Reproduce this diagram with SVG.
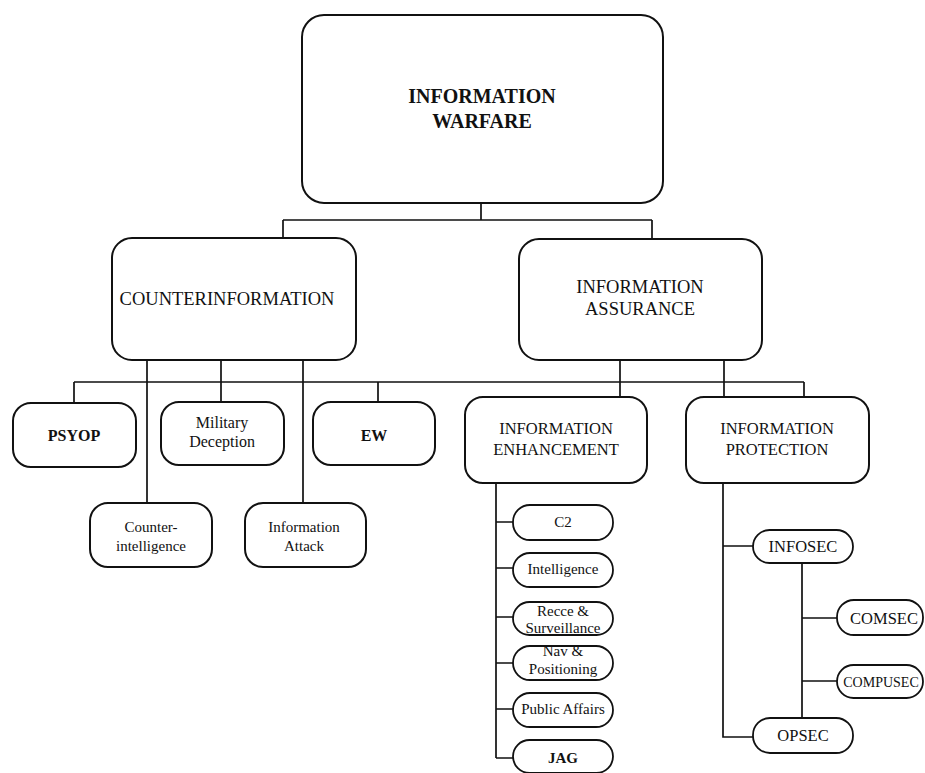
<svg xmlns="http://www.w3.org/2000/svg" width="925" height="773" viewBox="0 0 925 773">
  <style>
    .box { fill: #fff; stroke: #111; stroke-width: 2; }
    .pill { fill: #fff; stroke: #111; stroke-width: 1.8; }
    .ln { fill: none; stroke: #111; stroke-width: 1.7; }
    text { font-family: "Liberation Serif", "Times New Roman", serif; fill: #111; text-anchor: middle; }
    .t1 { font-size: 20px; font-weight: bold; }
    .t2 { font-size: 18.5px; }
    .t3 { font-size: 16.5px; }
    .t4 { font-size: 16px; }
    .t4s { font-size: 15px; }
    .t5 { font-size: 15px; }
    .t6 { font-size: 16.5px; }
    .t7 { font-size: 14px; }
    .b { font-weight: bold; }
  </style>

  <!-- connectors -->
  <g id="connectors">
    <!-- top level -->
    <path class="ln" d="M481,203 V220 M283,220 H652 M283,220 V238 M652,220 V239"/>
    <!-- second level bar -->
    <path class="ln" d="M74,382 H804 M74,382 V403 M378,382 V402 M804,382 V397"/>
    <path class="ln" d="M147,360 V503 M221,360 V402 M303,360 V503"/>
    <path class="ln" d="M620,360 V397 M724,360 V397"/>
    <!-- enhancement branch -->
    <path class="ln" d="M496,483 V758 M496,522 H513 M496,568 H513 M496,617 H513 M496,663 H513 M496,709 H513 M496,758 H513"/>
    <!-- protection branch -->
    <path class="ln" d="M723,483 V737 H753 M723,546 H753"/>
    <path class="ln" d="M802,563 V718 M802,618 H837 M802,681 H837"/>
  </g>

  <g id="information-warfare">
    <rect class="box" x="302" y="15" width="361" height="188" rx="22"/>
    <text class="t1" x="482" y="103">INFORMATION</text>
    <text class="t1" x="482" y="128">WARFARE</text>
  </g>

  <g id="counterinformation">
    <rect class="box" x="112" y="238" width="244" height="122" rx="20"/>
    <text class="t2" x="227" y="305">COUNTERINFORMATION</text>
  </g>

  <g id="information-assurance">
    <rect class="box" x="519" y="239" width="243" height="121" rx="20"/>
    <text class="t2" x="640" y="293">INFORMATION</text>
    <text class="t2" x="640" y="315">ASSURANCE</text>
  </g>

  <g id="psyop">
    <rect class="box" x="13" y="403" width="123" height="64" rx="18"/>
    <text class="t4 b" x="74" y="441">PSYOP</text>
  </g>

  <g id="military-deception">
    <rect class="box" x="161" y="402" width="123" height="63" rx="18"/>
    <text class="t4" x="222" y="428">Military</text>
    <text class="t4" x="222" y="447">Deception</text>
  </g>

  <g id="ew">
    <rect class="box" x="313" y="402" width="122" height="63" rx="18"/>
    <text class="t4 b" x="374" y="441">EW</text>
  </g>

  <g id="counter-intelligence">
    <rect class="box" x="90" y="503" width="122" height="64" rx="18"/>
    <text class="t4s" x="151" y="532">Counter-</text>
    <text class="t4s" x="151" y="551">intelligence</text>
  </g>

  <g id="information-attack">
    <rect class="box" x="245" y="503" width="121" height="64" rx="18"/>
    <text class="t4s" x="304" y="532">Information</text>
    <text class="t4s" x="304" y="551">Attack</text>
  </g>

  <g id="information-enhancement">
    <rect class="box" x="465" y="397" width="182" height="86" rx="18"/>
    <text class="t3" x="556" y="434">INFORMATION</text>
    <text class="t3" x="556" y="455">ENHANCEMENT</text>
  </g>

  <g id="information-protection">
    <rect class="box" x="686" y="397" width="183" height="86" rx="18"/>
    <text class="t3" x="777" y="434">INFORMATION</text>
    <text class="t3" x="777" y="455">PROTECTION</text>
  </g>

  <g id="c2">
    <rect class="pill" x="513" y="505" width="100" height="35" rx="17"/>
    <text class="t5" x="563" y="527">C2</text>
  </g>
  <g id="intelligence">
    <rect class="pill" x="513" y="553" width="100" height="34" rx="17"/>
    <text class="t5" x="563" y="574">Intelligence</text>
  </g>
  <g id="recce-surveillance">
    <rect class="pill" x="513" y="602" width="100" height="33" rx="16.5"/>
    <text class="t5" x="563" y="616">Recce &amp;</text>
    <text class="t5" x="563" y="633">Surveillance</text>
  </g>
  <g id="nav-positioning">
    <rect class="pill" x="513" y="646" width="100" height="34" rx="17"/>
    <text class="t5" x="563" y="656">Nav &amp;</text>
    <text class="t5" x="563" y="674">Positioning</text>
  </g>
  <g id="public-affairs">
    <rect class="pill" x="513" y="693" width="100" height="34" rx="17"/>
    <text class="t5" x="563" y="714">Public Affairs</text>
  </g>
  <g id="jag">
    <rect class="pill" x="513" y="740" width="100" height="33" rx="16.5"/>
    <text class="t5 b" x="563" y="763">JAG</text>
  </g>

  <g id="infosec">
    <rect class="pill" x="753" y="530" width="100" height="33" rx="16.5"/>
    <text class="t6" x="803" y="552">INFOSEC</text>
  </g>
  <g id="comsec">
    <rect class="pill" x="837" y="600" width="86" height="35" rx="17"/>
    <text class="t6" x="884" y="624">COMSEC</text>
  </g>
  <g id="compusec">
    <rect class="pill" x="837" y="665" width="86" height="33" rx="16.5"/>
    <text class="t7" x="881" y="687">COMPUSEC</text>
  </g>
  <g id="opsec">
    <rect class="pill" x="753" y="718" width="100" height="35" rx="17"/>
    <text class="t6" x="803" y="741">OPSEC</text>
  </g>
</svg>
